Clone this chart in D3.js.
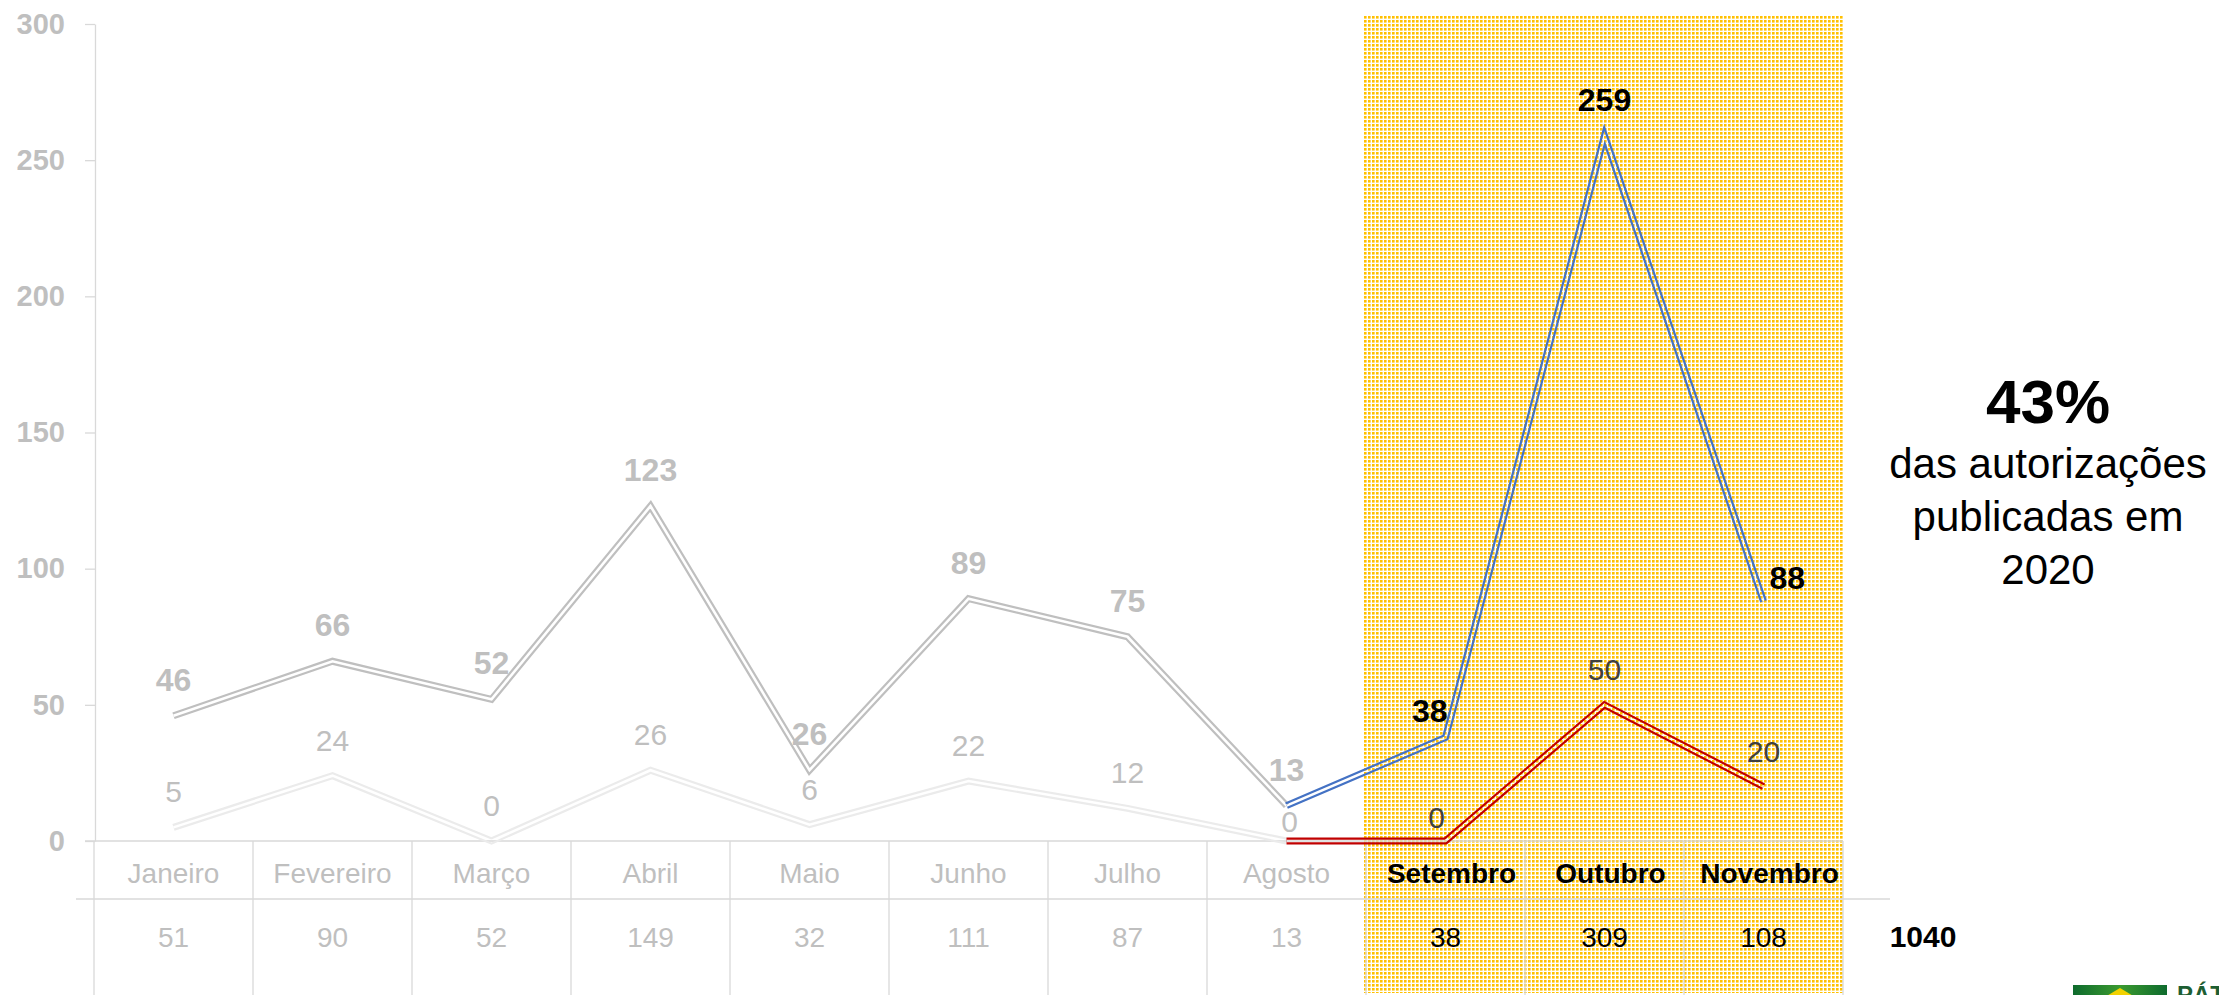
<!DOCTYPE html>
<html>
<head>
<meta charset="utf-8">
<script src="https://cdn.jsdelivr.net/npm/d3@7"></script>
<style>
  body { margin: 0; background: #fff; }
  svg { display: block; font-family: "Liberation Sans", Arial, sans-serif; }
</style>
</head>
<body>
<script>
const W = 2219, H = 995;

// data
const months = ["Janeiro", "Fevereiro", "Março", "Abril", "Maio", "Junho",
                "Julho", "Agosto", "Setembro", "Outubro", "Novembro"];
const upperValues = [46, 66, 52, 123, 26, 89, 75, 13, 38, 259, 88];
const lowerValues = [5, 24, 0, 26, 6, 22, 12, 0, 0, 50, 20];
const monthTotals = [51, 90, 52, 149, 32, 111, 87, 13, 38, 309, 108];
const grandTotal = 1040;
const yTicks = [0, 50, 100, 150, 200, 250, 300];
const firstHighlighted = "Setembro";
const noteBig = "43%";
const noteLines = ["das autorizações", "publicadas em", "2020"];

// where each data label sits relative to its point
const upperLabelSide = ["top", "top", "top", "top", "top", "top", "top", "top", "left", "top", "right"];
const lowerLabelSide = ["top", "top", "top", "top", "top", "top", "top", "low", "lowleft", "top", "top"];

const svg = d3.select("body").append("svg")
    .attr("width", W)
    .attr("height", H);
const defs = svg.append("defs");

const x = d3.scaleBand().domain(months).range([94, 1843]).padding(0);
const y = d3.scaleLinear().domain([0, 300]).range([841, 24]);
const bw = x.bandwidth();
const cx = m => x(m) + bw / 2;

const hiIndex = months.indexOf(firstHighlighted);
const splitIndex = hiIndex - 1;   // Agosto: where the colours change
const grey = "#bfbfbf";
const gridGrey = "#d9d9d9";

// dotted yellow highlight
const pat = defs.append("pattern").attr("id", "dots")
    .attr("width", 4).attr("height", 4).attr("patternUnits", "userSpaceOnUse");
pat.append("rect").attr("width", 4).attr("height", 4).attr("fill", "#fff");
pat.append("rect").attr("width", 2.6).attr("height", 2.6).attr("fill", "#ffc000");

svg.append("rect")
    .attr("x", x(firstHighlighted) - 2)
    .attr("y", 16)
    .attr("width", x.range()[1] - x(firstHighlighted) + 2)
    .attr("height", H - 18)
    .attr("fill", "url(#dots)");

// y axis
const yAxis = svg.append("g")
    .attr("transform", "translate(95,0)")
    .call(d3.axisLeft(y).tickValues(yTicks).tickSize(10).tickSizeOuter(0).tickPadding(20));
yAxis.select(".domain").attr("stroke", gridGrey).attr("stroke-width", 1.3);
yAxis.selectAll(".tick line").attr("stroke", gridGrey).attr("stroke-width", 1.3);
yAxis.selectAll(".tick text")
    .attr("fill", grey)
    .style("font-family", "'Liberation Sans', Arial, sans-serif")
    .style("font-size", "29px")
    .style("font-weight", "bold");

// data table under the chart
const table = svg.append("g").attr("stroke", gridGrey).attr("stroke-width", 1.3);
table.append("line").attr("x1", 85).attr("x2", x.range()[1]).attr("y1", y(0)).attr("y2", y(0));
table.append("line").attr("x1", 76).attr("x2", 1890).attr("y1", 899).attr("y2", 899);
table.selectAll(".vline").data(months.concat(["end"])).join("line")
    .attr("class", "vline")
    .attr("x1", (d, i) => x.range()[0] + i * bw)
    .attr("x2", (d, i) => x.range()[0] + i * bw)
    .attr("y1", y(0)).attr("y2", H);

svg.selectAll(".mname").data(months).join("text")
    .attr("class", "mname")
    .attr("x", (d, i) => cx(d) + (i >= hiIndex ? 6 : 0))
    .attr("y", 883)
    .attr("text-anchor", "middle")
    .attr("font-size", (d, i) => i >= hiIndex ? 28 : 28)
    .attr("font-weight", (d, i) => i >= hiIndex ? "bold" : "normal")
    .attr("fill", (d, i) => i >= hiIndex ? "#000" : grey)
    .text(d => d);

svg.selectAll(".mtotal").data(monthTotals).join("text")
    .attr("class", "mtotal")
    .attr("x", (d, i) => cx(months[i]))
    .attr("y", 947)
    .attr("text-anchor", "middle")
    .attr("font-size", 28)
    .attr("fill", (d, i) => i >= hiIndex ? "#000" : grey)
    .text(d => d);

svg.append("text")
    .attr("x", x.range()[1] + 80).attr("y", 947)
    .attr("text-anchor", "middle")
    .attr("font-size", 30).attr("font-weight", "bold")
    .text(grandTotal);

// double (compound) lines: thick stroke with its middle masked out
const line = d3.line().x(d => cx(d.m)).y(d => y(d.v));
let maskCount = 0;
function doubleLine(pts, color) {
    const d = line(pts);
    const id = "m" + (maskCount++);
    const m = defs.append("mask").attr("id", id).attr("maskUnits", "userSpaceOnUse")
        .attr("x", 0).attr("y", 0).attr("width", W).attr("height", H);
    m.append("rect").attr("width", W).attr("height", H).attr("fill", "white");
    m.append("path").attr("d", d).attr("fill", "none").attr("stroke", "black")
        .attr("stroke-width", 2.6).attr("stroke-linejoin", "miter").attr("stroke-miterlimit", 20);
    svg.append("path").attr("d", d).attr("fill", "none").attr("stroke", color)
        .attr("stroke-width", 7).attr("stroke-linejoin", "miter").attr("stroke-miterlimit", 20)
        .attr("mask", `url(#${id})`);
}

const upperPts = months.map((m, i) => ({m, v: upperValues[i]}));
const lowerPts = months.map((m, i) => ({m, v: lowerValues[i]}));

doubleLine(lowerPts.slice(0, splitIndex + 1), "#ebebeb");
doubleLine(upperPts.slice(0, splitIndex + 1), grey);
doubleLine(lowerPts.slice(splitIndex), "#c00000");
doubleLine(upperPts.slice(splitIndex), "#4472c4");

// data labels
function place(side, px, py) {
    switch (side) {
        case "left": return [px + 2, py - 16, "end"];
        case "right": return [px + 6, py - 12, "start"];
        case "low": return [px + 3, py - 9, "middle"];
        case "lowleft": return [px - 9, py - 13, "middle"];
        default: return [px, py - 25, "middle"];
    }
}

function labels(pts, sides, bold, oldColor, newColor) {
    pts.forEach((p, i) => {
        const [lx, ly, anchor] = place(sides[i], cx(p.m), y(p.v));
        svg.append("text")
            .attr("x", lx).attr("y", ly)
            .attr("text-anchor", anchor)
            .attr("font-size", bold ? 32 : 30)
            .attr("font-weight", bold ? "bold" : "normal")
            .attr("fill", i > splitIndex ? newColor : oldColor)
            .text(p.v);
    });
}
labels(lowerPts, lowerLabelSide, false, grey, "#404040");
labels(upperPts, upperLabelSide, true, grey, "#000");

// note on the right
const note = svg.append("g").attr("text-anchor", "middle");
note.append("text").attr("x", 2048).attr("y", 423)
    .attr("font-size", 62).attr("font-weight", "bold").text(noteBig);
note.selectAll(".nl").data(noteLines).join("text")
    .attr("class", "nl")
    .attr("x", 2048)
    .attr("y", (d, i) => 478 + i * 53)
    .attr("font-size", 42)
    .text(d => d);

// logo corner (cut by the frame)
const logoGrad = defs.append("linearGradient").attr("id", "lg").attr("x1", 0).attr("x2", 1);
logoGrad.append("stop").attr("offset", "0").attr("stop-color", "#0e6b2e");
logoGrad.append("stop").attr("offset", "0.5").attr("stop-color", "#3b9a2f");
logoGrad.append("stop").attr("offset", "1").attr("stop-color", "#0e6b2e");
svg.append("rect").attr("x", 2073).attr("y", 985).attr("width", 94).attr("height", 12).attr("fill", "url(#lg)");
svg.append("path").attr("d", "M2105,997 L2120,988 L2135,997 Z").attr("fill", "#f2d200");
svg.append("text").attr("x", 2177).attr("y", 1003)
    .attr("font-size", 24).attr("font-weight", "bold").attr("fill", "#1d5e33")
    .text("PÁTRIA");
</script>
</body>
</html>
